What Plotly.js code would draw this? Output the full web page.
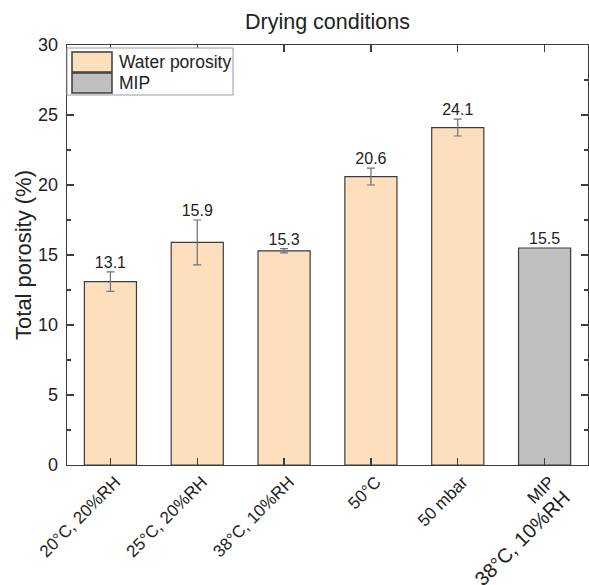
<!DOCTYPE html>
<html>
<head>
<meta charset="utf-8">
<script src="https://cdn.plot.ly/plotly-3.0.1.min.js"></script>
<style>html,body{margin:0;padding:0;background:#fff;}#chart{width:589px;height:585px;}</style>
</head>
<body>
<div id="chart"></div>
<script>
const categories = ['20°C, 20%RH', '25°C, 20%RH', '38°C, 10%RH', '50°C', '50 mbar', 'MIP 38°C, 10%RH'];
const tickLabels = ['20°C, 20%RH', '25°C, 20%RH', '38°C, 10%RH', '50°C', '50 mbar', 'MIP<br><span style="font-size:20px">38°C, 10%RH</span>'];
const seriesNames = ['Water porosity', 'MIP'];
const waterCats = categories.slice(0, 5);
const waterValues = [13.1, 15.9, 15.3, 20.6, 24.1];
const waterErrors = [0.7, 1.6, 0.15, 0.6, 0.6];
const mipCats = [categories[5]];
const mipValues = [15.5];
const mipErrors = [0];

const font = 'Liberation Sans, Arial, sans-serif';
const axisColor = '#3c3c3c';
const seriesColors = ['#FDDFBE', '#BFBFBF'];
const barLine = '#3c3c3c';

const allCats = waterCats.concat(mipCats);
const allVals = waterValues.concat(mipValues);
const allErrs = waterErrors.concat(mipErrors);

const traces = [
  {
    type: 'bar', name: seriesNames[0], x: waterCats, y: waterValues,
    width: 0.6, showlegend: false,
    marker: {color: seriesColors[0], line: {color: barLine, width: 1.2}},
    error_y: {type: 'data', array: waterErrors, visible: true, color: '#707070', thickness: 1.2, width: 4}
  },
  {
    type: 'bar', name: seriesNames[1], x: mipCats, y: mipValues,
    width: 0.6, showlegend: false,
    marker: {color: seriesColors[1], line: {color: barLine, width: 1.2}}
  },
  {
    type: 'scatter', mode: 'text', x: allCats,
    y: allVals.map((v, i) => v + allErrs[i]),
    text: allVals.map(v => v.toFixed(1)),
    textposition: 'top center',
    textfont: {family: font, size: 16, color: '#222'},
    showlegend: false, hoverinfo: 'skip', cliponaxis: false
  }
];

// Manual legend (box, swatches, labels) anchored to the top-left plot corner in pixels
const shapes = [
  {type: 'rect', xref: 'paper', yref: 'paper', xsizemode: 'pixel', ysizemode: 'pixel',
   xanchor: 0, yanchor: 1, x0: 0, x1: 166, y0: -3, y1: -50,
   line: {color: '#999', width: 1}, fillcolor: '#fff'}
];
const annotations = [];
seriesNames.forEach((name, i) => {
  shapes.push({type: 'rect', xref: 'paper', yref: 'paper', xsizemode: 'pixel', ysizemode: 'pixel',
    xanchor: 0, yanchor: 1, x0: 5, x1: 45, y0: -7 - 21 * i, y1: -27 - 21 * i,
    line: {color: barLine, width: 1.5}, fillcolor: seriesColors[i]});
  annotations.push({xref: 'paper', yref: 'paper', x: 0, y: 1, xshift: 50, yshift: -17 - 21 * i,
    xanchor: 'left', yanchor: 'middle', showarrow: false, text: name,
    font: {family: font, size: 17.5, color: '#222'}});
});

const layout = {
  width: 589, height: 585,
  margin: {l: 67, r: 1, t: 45, b: 120},
  paper_bgcolor: '#fff', plot_bgcolor: '#fff',
  barmode: 'overlay',
  showlegend: false,
  font: {family: font, color: '#222'},
  title: {text: 'Drying conditions', font: {family: font, size: 21.5, color: '#222'}, x: 0.556, xanchor: 'center', y: 0.963, yanchor: 'middle'},
  shapes: shapes,
  annotations: annotations,
  xaxis: {
    type: 'category', categoryorder: 'array', categoryarray: categories,
    tickvals: categories, ticktext: tickLabels,
    range: [-0.5, 5.5], automargin: false,
    tickangle: -45, tickfont: {family: font, size: 17, color: '#222'},
    ticklabelshift: 5, ticklabelstandoff: -1,
    ticks: 'inside', ticklen: 7, tickwidth: 1.2, tickcolor: axisColor,
    showline: true, linecolor: axisColor, linewidth: 1.4, mirror: 'allticks',
    showgrid: false, zeroline: false
  },
  xaxis2: {
    overlaying: 'x', anchor: 'y', type: 'linear', range: [-0.5, 5.5], automargin: false,
    tickvals: [0.5, 1.5, 2.5, 3.5, 4.5], showticklabels: false,
    ticks: 'inside', ticklen: 4, tickwidth: 1.2, tickcolor: axisColor,
    showline: true, linecolor: axisColor, linewidth: 1.4, mirror: 'allticks',
    showgrid: false, zeroline: false
  },
  yaxis: {
    range: [0, 30], dtick: 5, tick0: 0, automargin: false,
    title: {text: 'Total porosity (%)', font: {family: font, size: 22, color: '#222'}, standoff: 0},
    tickfont: {family: font, size: 18, color: '#222'},
    ticklabelstandoff: 4,
    ticks: 'inside', ticklen: 7, tickwidth: 1.2, tickcolor: axisColor,
    minor: {dtick: 2.5, ticks: 'inside', ticklen: 4, tickwidth: 1.2, tickcolor: axisColor, showgrid: false},
    showline: true, linecolor: axisColor, linewidth: 1.4, mirror: 'allticks',
    showgrid: false, zeroline: false
  }
};

Plotly.newPlot('chart', traces, layout, {displayModeBar: false, staticPlot: true});
</script>
</body>
</html>
